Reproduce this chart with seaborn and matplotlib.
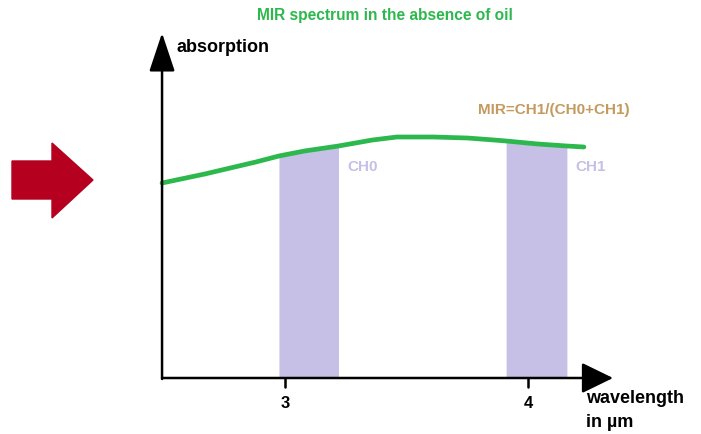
import matplotlib
matplotlib.use("Agg")
import matplotlib.pyplot as plt
from matplotlib.patches import Polygon
import numpy as np
import pandas as pd
import seaborn as sns

# values (wavelength in um, absorption in arbitrary units)
wavelength = [2.494, 2.67, 2.88, 2.975, 3.08, 3.22, 3.36, 3.46, 3.61,
              3.75, 3.86, 3.91, 4.04, 4.16, 4.23]
absorption = [1.95, 2.04, 2.16, 2.22, 2.27, 2.32, 2.38, 2.41, 2.41,
              2.40, 2.38, 2.37, 2.34, 2.32, 2.31]
channels = ["CH0", "CH1"]
band_lo = [2.975, 3.91]
band_hi = [3.22, 4.16]
tick_pos = [3, 4]
tick_lbl = ["3", "4"]

df = pd.DataFrame({"wavelength": wavelength, "absorption": absorption})

sns.set_style("white")
plt.rcParams["font.family"] = ["Liberation Sans", "DejaVu Sans"]
plt.rcParams["text.color"] = "black"

fig = plt.figure(figsize=(7.01, 4.35), dpi=100)
ax = fig.add_axes([0, 0, 1, 1])
# pixel mapping: x=3 -> 285px, x=4 -> 528px ; y=0 -> 379px, 1 unit = 100px
ax.set_xlim(3 - 285 / 243, 3 + 416 / 243)
ax.set_ylim(-0.56, 3.79)
ax.axis("off")

band_col = "#c6bfe6"
x_arr = np.array(wavelength)
y_arr = np.array(absorption)
for lo, hi in zip(band_lo, band_hi):
    m = (x_arr >= lo) & (x_arr <= hi)
    ax.fill_between(x_arr[m], 0, y_arr[m], color=band_col, lw=0, zorder=1)

sns.lineplot(data=df, x="wavelength", y="absorption", ax=ax, color="#2db84d",
             lw=3.4, zorder=3, legend=False)

for name, hi in zip(channels, band_hi):
    ax.text(hi + 0.035, 2.12, name, color=band_col, fontsize=11,
            fontweight="bold", va="center", ha="left")

# axes with arrow heads
x0 = 2.494
ax.annotate("", xy=(x0, 3.45), xytext=(x0, -0.01),
            arrowprops=dict(arrowstyle="-|>,head_length=2.4,head_width=0.8",
                            lw=1.8, color="black", mutation_scale=10,
                            shrinkA=0, shrinkB=0), zorder=4)
ax.annotate("", xy=(4.35, 0), xytext=(x0, 0),
            arrowprops=dict(arrowstyle="-|>,head_length=1.95,head_width=0.95",
                            lw=1.8, color="black", mutation_scale=10,
                            shrinkA=0, shrinkB=0), zorder=4)

for t, lbl in zip(tick_pos, tick_lbl):
    ax.plot([t, t], [0, -0.09], color="black", lw=1.8)
    ax.text(t, -0.25, lbl, fontsize=12, fontweight="bold", ha="center",
            va="center", color="black")

ax.text(x0 + 0.058, 3.31, "absorption", fontsize=13, fontweight="bold",
        ha="left", va="center", color="black")
ax.text(4.24, -0.2, "wavelength", fontsize=13, fontweight="bold",
        ha="left", va="center", color="black")
ax.text(4.24, -0.44, "in µm", fontsize=13, fontweight="bold",
        ha="left", va="center", color="black")
ax.text(3.0 + 100 / 243, 3.63, "MIR spectrum in the absence of oil",
        color="#2db84d", fontsize=11.2, fontweight="bold", ha="center", va="center")
ax.text(3 + 193 / 243, 2.69, "MIR=CH1/(CH0+CH1)", color="#c49a5e",
        fontsize=11, fontweight="bold", ha="left", va="center")

# red arrow on the left (pixel coordinates)
arrow_px = [(12, 162), (52, 162), (52, 144), (93, 181), (52, 219), (52, 200), (12, 200)]
pts = [(px / 100, (435 - py) / 100) for px, py in arrow_px]
fig.patches.append(Polygon(pts, closed=True, color="#b5001f",
                           transform=fig.dpi_scale_trans, figure=fig))

fig.savefig("out.png", dpi=100)
